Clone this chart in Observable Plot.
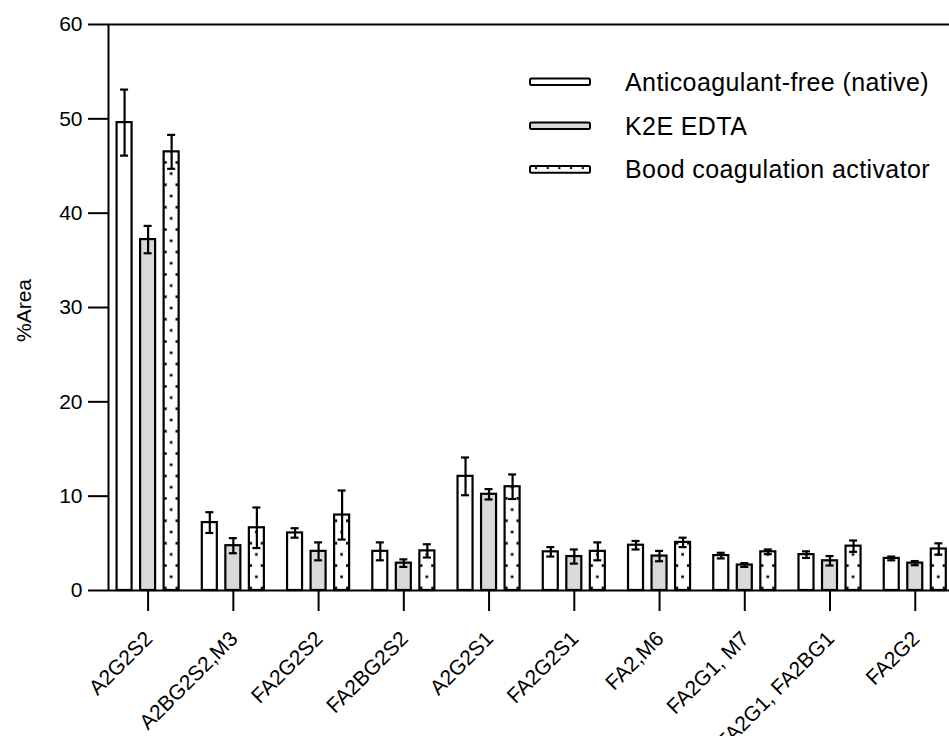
<!DOCTYPE html>
<html>
<head>
<meta charset="utf-8">
<script src="https://cdn.jsdelivr.net/npm/d3@7"></script>
<script src="https://cdn.jsdelivr.net/npm/@observablehq/plot@0.6"></script>
<style>
  html, body { margin: 0; padding: 0; background: white; }
  #wrap { position: relative; width: 949px; height: 736px; overflow: hidden; }
  #legend { position: absolute; left: 0; top: 0; pointer-events: none; }
</style>
</head>
<body>
<div id="wrap"></div>
<script>
const categories = ["A2G2S2", "A2BG2S2,M3", "FA2G2S2", "FA2BG2S2", "A2G2S1", "FA2G2S1", "FA2,M6", "FA2G1, M7", "FA2G1, FA2BG1", "FA2G2"];
const seriesNames = ["Anticoagulant-free (native)", "K2E EDTA", "Bood coagulation activator"];
const nativeMean = [49.6, 7.2, 6.1, 4.15, 12.1, 4.1, 4.8, 3.7, 3.8, 3.4];
const nativeSD   = [3.5, 1.1, 0.5, 0.95, 2.0, 0.5, 0.45, 0.3, 0.35, 0.2];
const edtaMean   = [37.2, 4.75, 4.15, 2.9, 10.2, 3.6, 3.65, 2.7, 3.15, 2.9];
const edtaSD     = [1.45, 0.8, 0.95, 0.4, 0.55, 0.75, 0.55, 0.2, 0.5, 0.22];
const activMean  = [46.5, 6.65, 8.0, 4.2, 11.0, 4.15, 5.1, 4.1, 4.7, 4.4];
const activSD    = [1.8, 2.15, 2.6, 0.7, 1.3, 0.95, 0.5, 0.25, 0.6, 0.6];
const yTicks = [0, 10, 20, 30, 40, 50, 60];

const means = [nativeMean, edtaMean, activMean];
const sds = [nativeSD, edtaSD, activSD];
const fills = ["white", "#d9d9d9", "url(#dots)"];
const offsets = [-0.276, 0, 0.276];
const hw = 0.088;
const capHalf = 0.047;
const xDomain = [-0.4646, 9.4016];
const catIdx = categories.map((_, i) => i);

const rows = [];
seriesNames.forEach((s, j) => {
  categories.forEach((c, i) => {
    rows.push({cat: c, i, s: j, mean: means[j][i], sd: sds[j][i], xc: i + offsets[j]});
  });
});

const FONT = "'Liberation Sans', Arial, Helvetica, sans-serif";

const barMarks = seriesNames.map((s, j) =>
  Plot.rectY(rows.filter(d => d.s === j), {
    x1: d => d.xc - hw, x2: d => d.xc + hw, y1: 0, y2: "mean",
    fill: fills[j], stroke: "black", strokeWidth: 2.2
  })
);

const plot = Plot.plot({
  width: 949,
  height: 736,
  marginLeft: 108,
  marginRight: 0,
  marginTop: 24,
  marginBottom: 146,
  style: {fontFamily: FONT, fontSize: "21px", background: "white", color: "black"},
  x: {type: "linear", domain: xDomain, axis: null},
  y: {domain: [0, 60], axis: null},
  marks: [
    ...barMarks,
    Plot.ruleX(rows, {x: "xc", y1: d => d.mean - d.sd, y2: d => d.mean + d.sd, stroke: "black", strokeWidth: 2.2}),
    Plot.ruleY(rows, {y: d => d.mean + d.sd, x1: d => d.xc - capHalf, x2: d => d.xc + capHalf, stroke: "black", strokeWidth: 2.2}),
    Plot.ruleY(rows, {y: d => d.mean - d.sd, x1: d => d.xc - capHalf, x2: d => d.xc + capHalf, stroke: "black", strokeWidth: 2.2}),
    Plot.ruleY([0, 60], {stroke: "black", strokeWidth: 2}),
    Plot.ruleX([xDomain[0]], {y1: 0, y2: 60, stroke: "black", strokeWidth: 2}),
    Plot.axisY({ticks: yTicks, tickSize: 20, tickPadding: 6, strokeWidth: 2, label: null, fontSize: 21}),
    Plot.axisX({ticks: catIdx, tickFormat: () => "", tickSize: 21, strokeWidth: 2, label: null}),
    Plot.text(catIdx, {x: d => d, frameAnchor: "bottom", text: d => categories[d], rotate: -45,
      textAnchor: "end", lineAnchor: "top", dx: -5, dy: 39, fontSize: 21}),
    Plot.text(["%Area"], {frameAnchor: "left", textAnchor: "middle", lineAnchor: "middle", dx: -84, dy: 3, rotate: -90, fontSize: 21})
  ]
});

// dotted pattern aligned to the dotted bars via the x and y scales
const xs = plot.scale("x"), ys = plot.scale("y");
const step = xs.apply(1) - xs.apply(0);
const barLeft = xs.apply(offsets[2] - hw);
const bw = xs.apply(offsets[2] + hw) - barLeft;
const y0 = ys.apply(0);
const ph = 22.4;
const svg = d3.select(plot);
const defs = svg.insert("defs", ":first-child");
const pat = defs.append("pattern").attr("id", "dots").attr("patternUnits", "userSpaceOnUse")
  .attr("x", barLeft).attr("y", y0 - 13.2).attr("width", step).attr("height", ph);
pat.append("rect").attr("width", step).attr("height", ph).attr("fill", "white");
const ds = 2.6;
[[bw / 2, 0], [bw / 2, ph], [1.8, ph / 2], [bw - 1.8, ph / 2]].forEach(([cx, cy]) => {
  pat.append("rect").attr("x", cx - ds / 2).attr("y", cy - ds / 2).attr("width", ds).attr("height", ds).attr("fill", "black");
});

svg.selectAll("text").attr("font-size", 21).style("font-size", "21px");

const wrap = document.getElementById("wrap");
wrap.appendChild(plot);

// legend overlay
const lg = d3.select(wrap).append("svg").attr("id", "legend").attr("width", 949).attr("height", 736);
const rowY = [81.7, 125.7, 169.4];
seriesNames.forEach((s, j) => {
  const g = lg.append("g");
  g.append("rect").attr("x", 530).attr("y", rowY[j] - 3.3).attr("width", 60).attr("height", 6.6)
    .attr("rx", 1.5).attr("fill", j === 1 ? "#d9d9d9" : "white").attr("stroke", "black").attr("stroke-width", 2);
  if (j === 2) {
    for (let k = 0; k < 5; k++) {
      g.append("rect").attr("x", 535 + k * 11.7).attr("y", rowY[j] - 2.3).attr("width", 2).attr("height", 2).attr("fill", "black");
    }
  }
  g.append("text").attr("x", 625).attr("y", rowY[j] + 9).attr("font-family", FONT).attr("font-size", 25)
    .attr("letter-spacing", 0.4).attr("fill", "black").text(s);
});
</script>
</body>
</html>
